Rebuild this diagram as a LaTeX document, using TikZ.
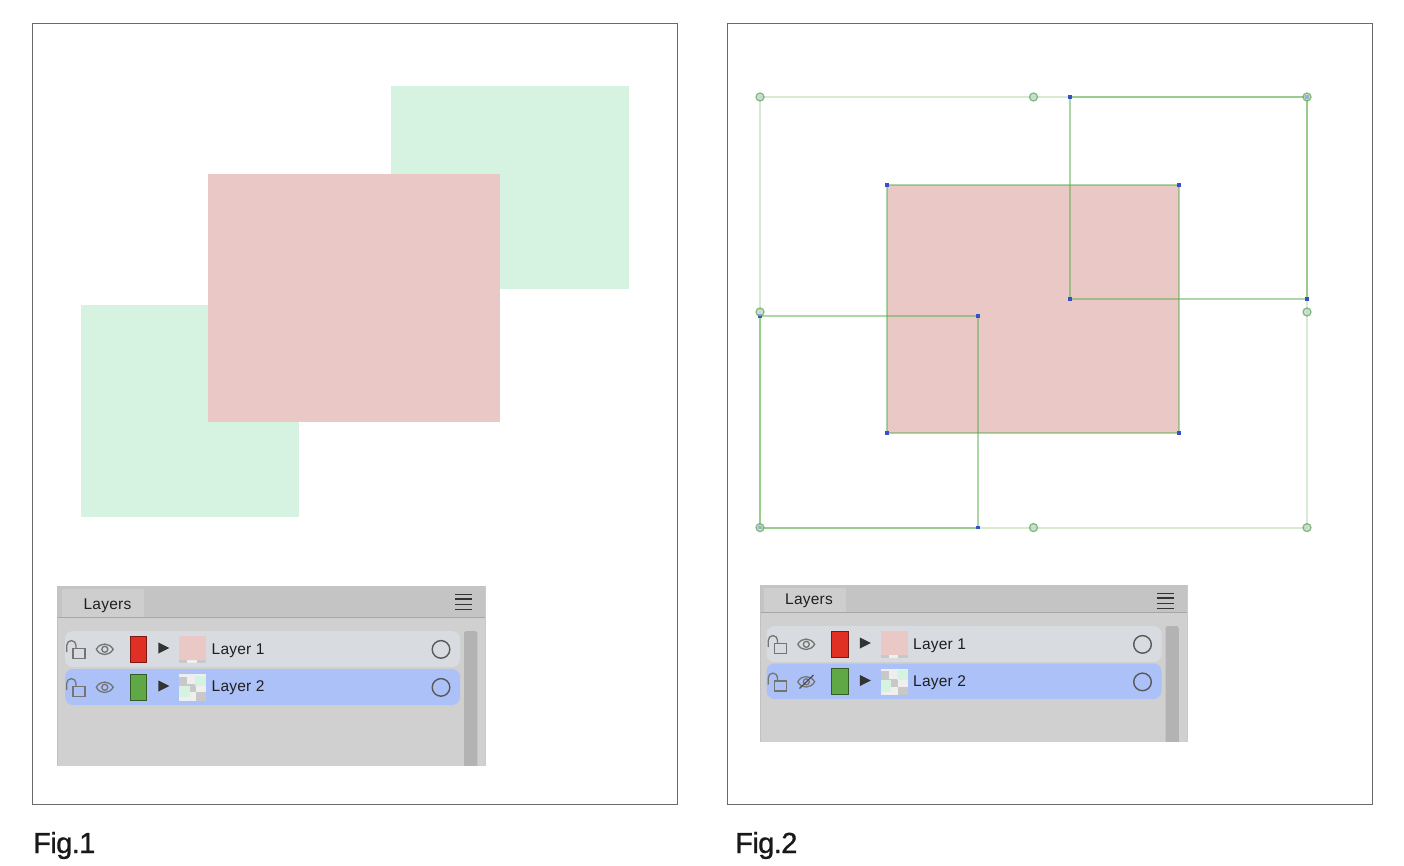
\documentclass[tikz,border=0pt]{standalone}
\usepackage{fontspec}
\setmainfont{Liberation Sans}
\newfontfamily\capfont[FakeBold=1,LetterSpace=-2]{Liberation Sans}
\newfontfamily\uifont[LetterSpace=1.5]{Liberation Sans}
\definecolor{framec}{HTML}{6A6A6A}
\definecolor{softgreen}{HTML}{D6F3E2}
\definecolor{softred}{HTML}{EAC8C6}
\definecolor{guide}{HTML}{5CB04E}
\definecolor{handlefill}{HTML}{C6D0DA}
\definecolor{handleblue}{HTML}{3550C8}
\definecolor{headerc}{HTML}{C4C4C4}
\definecolor{bodyc}{HTML}{D0D0D0}
\definecolor{tabc}{HTML}{CECECE}
\definecolor{headline}{HTML}{A6A6A6}
\definecolor{rowone}{HTML}{D8DBE0}
\definecolor{rowtwo}{HTML}{ABC1F8}
\definecolor{iconc}{HTML}{747474}
\definecolor{swred}{HTML}{E03024}
\definecolor{swgreen}{HTML}{5FA845}
\definecolor{scrollc}{HTML}{B3B3B3}
\definecolor{chkdark}{HTML}{C8C8C8}
\definecolor{chklight}{HTML}{EFEFEF}
\tikzset{
  figframe/.style={draw=framec,line width=.9pt,fill=white},
  outerguide/.style={draw=guide,draw opacity=.25,line width=2.2pt},
  innerguide/.style={draw=guide,draw opacity=.5,line width=2.2pt},
  handlecircle/.style={draw=guide,draw opacity=.75,line width=1.3pt,fill=handlefill,fill opacity=.75},
  layername/.style={font=\uifont\fontsize{15.5pt}{18pt}\selectfont,anchor=base west,inner sep=0pt,text=black!88},
  captiontext/.style={font=\capfont\fontsize{29pt}{32pt}\selectfont,anchor=base west,inner sep=0pt,text=black!90},
  iconline/.style={draw=iconc,line width=1.3pt},
}
\newcommand{\bluesq}[2]{\fill[handleblue] (#1-1.6,#2-1.6) rectangle (#1+1.6,#2+1.6);}
\newcommand{\handleat}[2]{\path[handlecircle] (#1,#2) circle (4);}
\newcommand{\rowicons}[1]{%
  \draw[iconline] (8,17.5) rectangle (20,27.5);
  \draw[iconline] (1.8,21) -- (1.8,14.2) arc[start angle=180,end angle=360,radius=4.6] -- (11,17.5);
  \fill[#1,draw=black!45!#1,line width=.9pt] (65,5) rectangle (81.6,31.3);
  \fill[black!80] (93.3,11.4) -- (104.3,17) -- (93.3,22.6) -- cycle;
  \draw[line width=1.4pt,draw=black!65] (376,18.4) circle (8.8);
}
\newcommand{\eyeopen}{%
  \draw[iconline] (31.3,18.3) .. controls (35,11.3) and (44,11.3) .. (48.2,18.3) .. controls (44,25.3) and (35,25.3) .. (31.3,18.3) -- cycle;
  \draw[iconline] (39.8,18.3) circle (3);
}
\newcommand{\eyeshut}{%
  \eyeopen
  \draw[draw=black!70,line width=1.2pt] (33,25) -- (47,11.5);
}
\newcommand{\layerspanel}[8]{%
  \fill[bodyc] (#3,#4) rectangle (#2+486,#7);
  \fill[headerc] (#3,#4) rectangle (#2+485,#5);
  \fill[tabc] (#2+62,#4+3) rectangle (#2+144,#5);
  \draw[headline,line width=1pt] (#3,#5+.5) -- (#2+485,#5+.5);
  \draw[headline!70,line width=.8pt] (#3,#4) -- (#3,#7);
  \draw[headline!60,line width=.8pt] (#2+485.5,#4) -- (#2+485.5,#7);
  \node[font=\uifont\fontsize{15.5pt}{18pt}\selectfont,anchor=base,inner sep=0pt,text=black!88] (#1title) at (#2+107.5,#8) {Layers};
  \foreach \hy in {8.3,13.2,18.3,23.3} \draw[black!80,line width=1.5pt] (#2+455.3,#4+\hy) -- (#2+472.3,#4+\hy);
  \fill[scrollc,rounded corners=2.5pt] (#2+464,#6) rectangle (#2+477.3,#7+8);
  \fill[white] (#2+460,#7) rectangle (#2+490,#7+9);
}
\newcommand{\rowband}[2]{\fill[#1,rounded corners=8pt] (0,0) rectangle (395,#2);}
\newcommand{\thumbred}{%
  \fill[chklight] (114.4,5) rectangle (141,31.6);
  \fill[softred] (114.4,5) rectangle (141,29.4);
  \fill[chkdark] (114.4,29.4) rectangle (122,31.6);
  \fill[chkdark] (131.5,29.4) rectangle (141,31.6);
}
\newcommand{\thumbgreen}{%
  \fill[chklight] (114.4,5) rectangle (141,31.6);
  \fill[chkdark] (114.4,7.7) rectangle (122.1,16.7);
  \fill[chkdark] (122.1,15) rectangle (131,23.3);
  \fill[chkdark] (131,23.3) rectangle (141,31.6);
  \fill[softgreen] (130.4,6.7) rectangle (141,16.7);
  \fill[softgreen] (114.4,16.7) rectangle (124.5,28.3);
}
\begin{document}
\begin{tikzpicture}[x=1pt,y=-1pt]
\useasboundingbox (0,0) rectangle (1404,866);
\fill[white] (0,0) rectangle (1404,866);
% ---------- Fig 1 ----------
\path[figframe] (32,23) rectangle (677,804);
\fill[softgreen] (391,86) rectangle (629,289);
\fill[softgreen] (81,305) rectangle (299,517);
\fill[softred] (208,174) rectangle (500,422);
\layerspanel{pa}{0}{57.5}{586}{617}{631}{766}{609.5}
\begin{scope}[shift={(65,631)}]
  \rowband{rowone}{36}
  \rowicons{swred}
  \eyeopen
  \thumbred
  \node[layername] (pa1) at (146.5,23.2) {Layer 1};
\end{scope}
\begin{scope}[shift={(65,669)}]
  \rowband{rowtwo}{36}
  \rowicons{swgreen}
  \eyeopen
  \thumbgreen
  \node[layername] (pa2) at (146.5,22.2) {Layer 2};
\end{scope}
\node[captiontext] (capa) at (33,853) {Fig.1};
% ---------- Fig 2 ----------
\path[figframe] (727,23) rectangle (1372.5,804);
\fill[softred] (887,185) rectangle (1179,433);
\draw[outerguide] (760,97) rectangle (1307,527.6);
\draw[innerguide] (887,185) rectangle (1179,433);
\draw[innerguide] (1070,97) rectangle (1307,299);
\draw[innerguide] (760,316) rectangle (978,527.6);
\bluesq{887}{185}\bluesq{1179}{185}\bluesq{887}{433}\bluesq{1179}{433}
\bluesq{1070}{97}\bluesq{1307}{97}\bluesq{1070}{299}\bluesq{1307}{299}
\bluesq{760}{316}\bluesq{978}{316}\bluesq{760}{527.6}\bluesq{978}{527.6}
\handleat{760}{97}\handleat{1033.5}{97}\handleat{1307}{97}
\handleat{760}{312}\handleat{1307}{312}
\handleat{760}{527.6}\handleat{1033.5}{527.6}\handleat{1307}{527.6}
\layerspanel{pb}{701.5}{760}{585}{612}{626}{742}{604.5}
\begin{scope}[shift={(766.5,626)}]
  \rowband{rowone}{36}
  \rowicons{swred}
  \eyeopen
  \thumbred
  \node[layername] (pb1) at (146.5,23) {Layer 1};
\end{scope}
\begin{scope}[shift={(766.5,663.5)}]
  \rowband{rowtwo}{35.5}
  \rowicons{swgreen}
  \eyeshut
  \thumbgreen
  \node[layername] (pb2) at (146.5,22.5) {Layer 2};
\end{scope}
\node[captiontext] (capb) at (735,853) {Fig.2};
\end{tikzpicture}
\end{document}
